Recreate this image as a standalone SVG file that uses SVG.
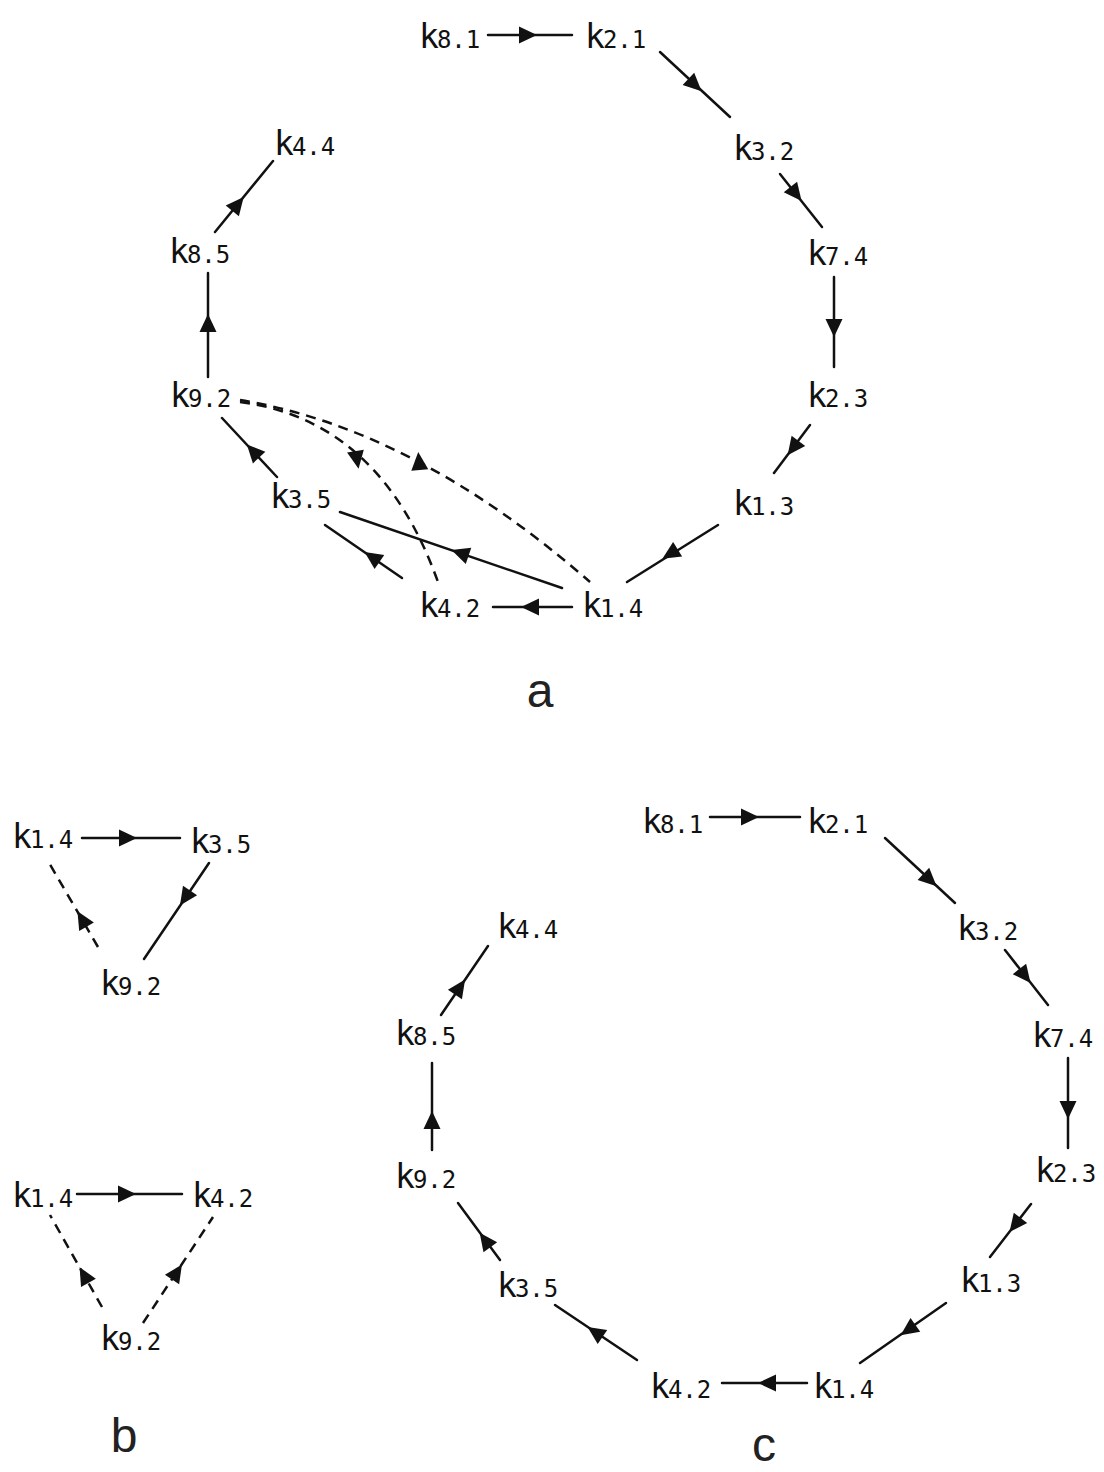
<svg xmlns="http://www.w3.org/2000/svg" xmlns:xlink="http://www.w3.org/1999/xlink" width="1104" height="1472" viewBox="0 0 1104 1472">
<style>
.lb{font-family:"DejaVu Sans Mono","Liberation Mono",monospace;fill:#111}
.k{font-size:33px}
.d{font-size:24px}
.e{stroke:#111;stroke-width:2.5;fill:none;stroke-linecap:round}
.ds{stroke-dasharray:10 7;stroke-linecap:butt}
.cap{font-family:"Liberation Sans",Arial,sans-serif;font-size:48px;fill:#222;text-anchor:middle}
</style>
<defs>
<path id="ah" d="M9,0 L-9,-8.5 L-9,8.5 Z" fill="#111"/>
</defs>
<rect width="1104" height="1472" fill="#fff"/>

<g id="connectors">
<!-- panel a -->
<line class="e" x1="488" y1="35" x2="572" y2="35"/>
<line class="e" x1="660" y1="52" x2="730" y2="117"/>
<line class="e" x1="780" y1="174" x2="822" y2="227"/>
<line class="e" x1="834" y1="277" x2="834" y2="367"/>
<line class="e" x1="810" y1="425" x2="774" y2="473"/>
<line class="e" x1="718" y1="525" x2="627" y2="582"/>
<line class="e" x1="572" y1="607" x2="493" y2="607"/>
<line class="e" x1="562" y1="588" x2="340" y2="512"/>
<line class="e" x1="402" y1="578" x2="325" y2="525"/>
<line class="e" x1="277" y1="477" x2="222" y2="418"/>
<line class="e" x1="208" y1="377" x2="208" y2="273"/>
<line class="e" x1="215" y1="232" x2="273" y2="161"/>
<path class="e ds" d="M240,400 Q415,429 590,582"/>
<path class="e ds" d="M240,402 Q380,420 438,582"/>
<use xlink:href="#ah" transform="translate(528,35)"/>
<use xlink:href="#ah" transform="translate(695,85) rotate(42.9)"/>
<use xlink:href="#ah" transform="translate(796,194) rotate(51.6)"/>
<use xlink:href="#ah" transform="translate(834,328) rotate(90)"/>
<use xlink:href="#ah" transform="translate(793,448) rotate(126.9)"/>
<use xlink:href="#ah" transform="translate(670,554) rotate(147.9)"/>
<use xlink:href="#ah" transform="translate(530,607) rotate(180)"/>
<use xlink:href="#ah" transform="translate(460,553) rotate(-161.1)"/>
<use xlink:href="#ah" transform="translate(372,557) rotate(-145.5)"/>
<use xlink:href="#ah" transform="translate(253,451) rotate(-133)"/>
<use xlink:href="#ah" transform="translate(208,323) rotate(-90)"/>
<use xlink:href="#ah" transform="translate(238,204) rotate(-50.8)"/>
<use xlink:href="#ah" transform="translate(419,461) rotate(-95)"/>
<use xlink:href="#ah" transform="translate(357,460) rotate(80)"/>

<!-- panel b top -->
<line class="e" x1="82" y1="838" x2="180" y2="838"/>
<line class="e" x1="209" y1="863" x2="144" y2="959"/>
<line class="e ds" x1="98" y1="947" x2="48" y2="861"/>
<use xlink:href="#ah" transform="translate(128,838)"/>
<use xlink:href="#ah" transform="translate(185,898) rotate(124.1)"/>
<use xlink:href="#ah" transform="translate(82,919) rotate(-120.2)"/>

<!-- panel b bottom -->
<line class="e" x1="77" y1="1194" x2="182" y2="1194"/>
<line class="e ds" x1="102" y1="1307" x2="50" y2="1215"/>
<line class="e ds" x1="143" y1="1323" x2="213" y2="1217"/>
<use xlink:href="#ah" transform="translate(127,1194)"/>
<use xlink:href="#ah" transform="translate(84,1275) rotate(-119.5)"/>
<use xlink:href="#ah" transform="translate(177,1272) rotate(-56.6)"/>

<!-- panel c -->
<line class="e" x1="710" y1="817" x2="800" y2="817"/>
<line class="e" x1="885" y1="838" x2="955" y2="903"/>
<line class="e" x1="1005" y1="950" x2="1048" y2="1005"/>
<line class="e" x1="1068" y1="1058" x2="1068" y2="1148"/>
<line class="e" x1="1031" y1="1204" x2="990" y2="1257"/>
<line class="e" x1="946" y1="1303" x2="860" y2="1363"/>
<line class="e" x1="807" y1="1383" x2="722" y2="1383"/>
<line class="e" x1="637" y1="1360" x2="555" y2="1305"/>
<line class="e" x1="500" y1="1260" x2="458" y2="1203"/>
<line class="e" x1="432" y1="1150" x2="432" y2="1063"/>
<line class="e" x1="441" y1="1015" x2="488" y2="946"/>
<use xlink:href="#ah" transform="translate(750,817)"/>
<use xlink:href="#ah" transform="translate(930,880) rotate(42.9)"/>
<use xlink:href="#ah" transform="translate(1025,976) rotate(52)"/>
<use xlink:href="#ah" transform="translate(1068,1110) rotate(90)"/>
<use xlink:href="#ah" transform="translate(1015,1225) rotate(127.7)"/>
<use xlink:href="#ah" transform="translate(908,1330) rotate(145.1)"/>
<use xlink:href="#ah" transform="translate(767,1383) rotate(180)"/>
<use xlink:href="#ah" transform="translate(595,1332) rotate(-146.1)"/>
<use xlink:href="#ah" transform="translate(485,1240) rotate(-126.4)"/>
<use xlink:href="#ah" transform="translate(432,1120) rotate(-90)"/>
<use xlink:href="#ah" transform="translate(460,987) rotate(-55.7)"/>
</g>

<!-- panel a nodes -->
<g id="a-k8-1"><text class="lb" x="419" y="48"><tspan class="k">k</tspan><tspan class="d" dx="-2">8.1</tspan></text></g>
<g id="a-k2-1"><text class="lb" x="585" y="48"><tspan class="k">k</tspan><tspan class="d" dx="-2">2.1</tspan></text></g>
<g id="a-k3-2"><text class="lb" x="733" y="160"><tspan class="k">k</tspan><tspan class="d" dx="-2">3.2</tspan></text></g>
<g id="a-k7-4"><text class="lb" x="807" y="265"><tspan class="k">k</tspan><tspan class="d" dx="-2">7.4</tspan></text></g>
<g id="a-k2-3"><text class="lb" x="807" y="407"><tspan class="k">k</tspan><tspan class="d" dx="-2">2.3</tspan></text></g>
<g id="a-k1-3"><text class="lb" x="733" y="515"><tspan class="k">k</tspan><tspan class="d" dx="-2">1.3</tspan></text></g>
<g id="a-k1-4"><text class="lb" x="582" y="617"><tspan class="k">k</tspan><tspan class="d" dx="-2">1.4</tspan></text></g>
<g id="a-k4-2"><text class="lb" x="419" y="617"><tspan class="k">k</tspan><tspan class="d" dx="-2">4.2</tspan></text></g>
<g id="a-k3-5"><text class="lb" x="270" y="508"><tspan class="k">k</tspan><tspan class="d" dx="-2">3.5</tspan></text></g>
<g id="a-k9-2"><text class="lb" x="170" y="407"><tspan class="k">k</tspan><tspan class="d" dx="-2">9.2</tspan></text></g>
<g id="a-k8-5"><text class="lb" x="169" y="263"><tspan class="k">k</tspan><tspan class="d" dx="-2">8.5</tspan></text></g>
<g id="a-k4-4"><text class="lb" x="274" y="155"><tspan class="k">k</tspan><tspan class="d" dx="-2">4.4</tspan></text></g>
<g id="cap-a"><text class="cap" x="540" y="707">a</text></g>

<!-- panel b nodes -->
<g id="b1-k1-4"><text class="lb" x="12" y="848"><tspan class="k">k</tspan><tspan class="d" dx="-2">1.4</tspan></text></g>
<g id="b1-k3-5"><text class="lb" x="190" y="853"><tspan class="k">k</tspan><tspan class="d" dx="-2">3.5</tspan></text></g>
<g id="b1-k9-2"><text class="lb" x="100" y="995"><tspan class="k">k</tspan><tspan class="d" dx="-2">9.2</tspan></text></g>
<g id="b2-k1-4"><text class="lb" x="12" y="1207"><tspan class="k">k</tspan><tspan class="d" dx="-2">1.4</tspan></text></g>
<g id="b2-k4-2"><text class="lb" x="192" y="1207"><tspan class="k">k</tspan><tspan class="d" dx="-2">4.2</tspan></text></g>
<g id="b2-k9-2"><text class="lb" x="100" y="1350"><tspan class="k">k</tspan><tspan class="d" dx="-2">9.2</tspan></text></g>
<g id="cap-b"><text class="cap" x="124" y="1452">b</text></g>

<!-- panel c nodes -->
<g id="c-k8-1"><text class="lb" x="642" y="833"><tspan class="k">k</tspan><tspan class="d" dx="-2">8.1</tspan></text></g>
<g id="c-k2-1"><text class="lb" x="807" y="833"><tspan class="k">k</tspan><tspan class="d" dx="-2">2.1</tspan></text></g>
<g id="c-k3-2"><text class="lb" x="957" y="940"><tspan class="k">k</tspan><tspan class="d" dx="-2">3.2</tspan></text></g>
<g id="c-k7-4"><text class="lb" x="1032" y="1047"><tspan class="k">k</tspan><tspan class="d" dx="-2">7.4</tspan></text></g>
<g id="c-k2-3"><text class="lb" x="1035" y="1182"><tspan class="k">k</tspan><tspan class="d" dx="-2">2.3</tspan></text></g>
<g id="c-k1-3"><text class="lb" x="960" y="1292"><tspan class="k">k</tspan><tspan class="d" dx="-2">1.3</tspan></text></g>
<g id="c-k1-4"><text class="lb" x="813" y="1398"><tspan class="k">k</tspan><tspan class="d" dx="-2">1.4</tspan></text></g>
<g id="c-k4-2"><text class="lb" x="650" y="1398"><tspan class="k">k</tspan><tspan class="d" dx="-2">4.2</tspan></text></g>
<g id="c-k3-5"><text class="lb" x="497" y="1297"><tspan class="k">k</tspan><tspan class="d" dx="-2">3.5</tspan></text></g>
<g id="c-k9-2"><text class="lb" x="395" y="1188"><tspan class="k">k</tspan><tspan class="d" dx="-2">9.2</tspan></text></g>
<g id="c-k8-5"><text class="lb" x="395" y="1045"><tspan class="k">k</tspan><tspan class="d" dx="-2">8.5</tspan></text></g>
<g id="c-k4-4"><text class="lb" x="497" y="938"><tspan class="k">k</tspan><tspan class="d" dx="-2">4.4</tspan></text></g>
<g id="cap-c"><text class="cap" x="764" y="1461">c</text></g>
</svg>
